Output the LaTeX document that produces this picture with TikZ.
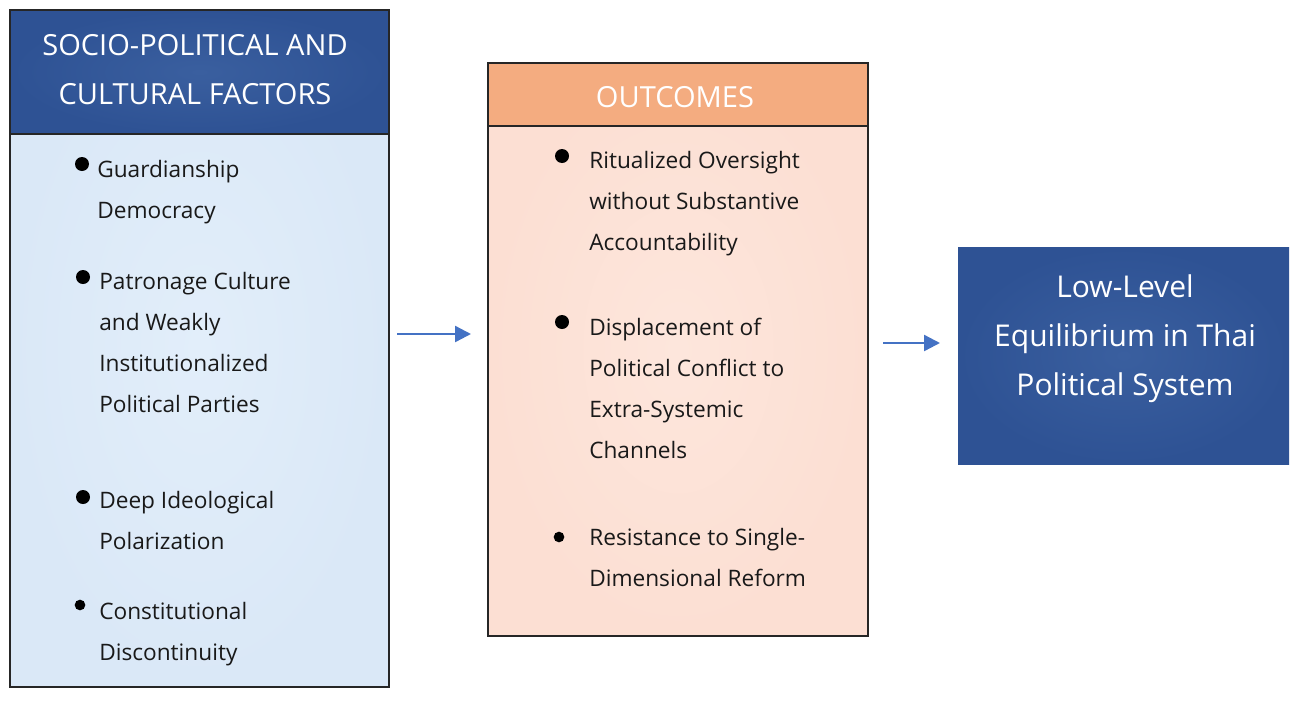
\documentclass[tikz,border=0pt]{standalone}
\usepackage{fontspec}
\setmainfont{Open Sans}
\usetikzlibrary{arrows.meta}
\definecolor{hblue}{HTML}{2E5294}
\definecolor{hbluec}{HTML}{3A5F9F}
\definecolor{lbody}{HTML}{DAE8F7}
\definecolor{lbodyc}{HTML}{E2EEFA}
\definecolor{horange}{HTML}{F4AC80}
\definecolor{obody}{HTML}{FCDFD3}
\definecolor{obodyc}{HTML}{FDE6DC}
\definecolor{arrblue}{HTML}{4472C4}
\tikzset{
  box/.style={draw=black!85, line width=1.5pt, inner sep=0pt, anchor=north west},
  titletext/.style={text=white, font={\fontsize{21.8}{36.75}\selectfont}, align=center, inner sep=0pt},
  itemtext/.style={font={\fontsize{17}{30.75}\selectfont}, align=left, inner sep=0pt, anchor=north west, text=black!90},
  dot/.style={circle, fill=black, inner sep=0pt, minimum size=10.5pt},
  smalldot/.style={circle, fill=black, inner sep=0pt, minimum size=8pt},
  arr/.style={draw=arrblue, line width=1.8pt, -{Triangle[length=12pt, width=12pt]}}
}
\begin{document}
\begin{tikzpicture}[x=0.75pt, y=-0.75pt]
\useasboundingbox (0,0) rectangle (1302,700);
% left box
\node[box, inner color=lbodyc, outer color=lbody, minimum width=379*0.75pt, minimum height=677*0.75pt] (L) at (9,9) {};
\node[box, inner color=hbluec, outer color=hblue, minimum width=379*0.75pt, minimum height=124*0.75pt] (LH) at (9,9) {};
\node[titletext] (LHt) at (195,70) {SOCIO-POLITICAL AND\\CULTURAL FACTORS};
% middle box
\node[box, inner color=obodyc, outer color=obody, minimum width=380*0.75pt, minimum height=573*0.75pt] (M) at (487,62) {};
\node[box, fill=horange, minimum width=380*0.75pt, minimum height=63*0.75pt] (MH) at (487,62) {};
\node[titletext] (MHt) at (675,97) {OUTCOMES};
% right box
\node[box, draw=none, inner color=hbluec, outer color=hblue, minimum width=331*0.75pt, minimum height=217*0.75pt] (R) at (957,246) {};
\node[titletext, font={\fontsize{22.5}{36.75}\selectfont}] (Rt) at (1125,339) {Low-Level\\Equilibrium in Thai\\Political System};
% left items
\node[dot] (lb1) at (82,164) {};
\node[itemtext] (li1) at (97,160) {Guardianship\\Democracy};
\node[dot] (lb2) at (83,277) {};
\node[itemtext] (li2) at (99,272) {Patronage Culture\\and Weakly\\Institutionalized\\Political Parties};
\node[dot] (lb3) at (83,497) {};
\node[itemtext] (li3) at (99,491) {Deep Ideological\\Polarization};
\node[smalldot] (lb4) at (80,605) {};
\node[itemtext] (li4) at (99,602) {Constitutional\\Discontinuity};
% middle items
\node[dot] (mb1) at (562,156) {};
\node[itemtext] (mi1) at (589,151) {Ritualized Oversight\\without Substantive\\Accountability};
\node[dot] (mb2) at (562,322) {};
\node[itemtext] (mi2) at (589,318) {Displacement of\\Political Conflict to\\Extra-Systemic\\Channels};
\node[smalldot] (mb3) at (559,537) {};
\node[itemtext] (mi3) at (589,528) {Resistance to Single-\\Dimensional Reform};
% arrows
\coordinate (a1s) at (397,334);
\coordinate (a1e) at (471,334);
\coordinate (a2s) at (883,343);
\coordinate (a2e) at (940,343);
\draw[arr] (a1s) -- (a1e);
\draw[arr] (a2s) -- (a2e);
\end{tikzpicture}
\end{document}
